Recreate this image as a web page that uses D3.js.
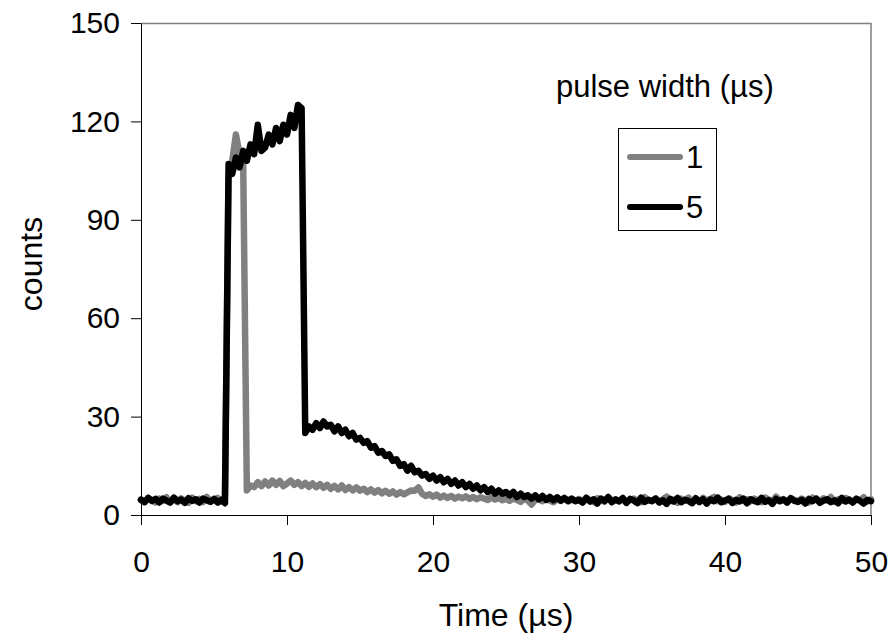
<!DOCTYPE html>
<html>
<head>
<meta charset="utf-8">
<script src="https://cdn.jsdelivr.net/npm/d3@7"></script>
<style>
  body { margin: 0; background: #fff; }
  text { font-family: "Liberation Sans", Arial, sans-serif; fill: #000; }
</style>
</head>
<body>
<div id="chart"></div>
<script>
// sample spacing of the recorded traces (µs)
const step = 0.25;

const xTicks = [0, 10, 20, 30, 40, 50];
const yTicks = [0, 30, 60, 90, 120, 150];
const legendLabels = ['1', '5'];

// pulse width 1 µs
const gray1 = [
  4.8, 4.0, 5.2, 4.4, 3.8, 5.0, 4.3, 5.4, 4.1, 4.7, 3.9, 5.1, 4.5, 3.7, 5.3, 4.2, 4.9, 4.0, 5.5, 4.4,
  4.6, 5.2, 4.1, 5.6, 104, 108, 116, 110, 107, 7.5, 9, 8.5, 10, 8.8, 10.2, 9, 10.5, 9.2, 10.4, 8.8,
  9.6, 10.5, 9.2, 10, 8.8, 9.8, 8.6, 9.6, 8.5, 9.4, 8.3, 9.2, 8, 8.9, 7.8, 9, 7.6, 8.5, 7.5, 8.4,
  7.4, 8.0, 7.0, 7.8, 6.8, 7.6, 6.6, 7.4, 6.5, 7.2, 6.2, 7.0, 6.3, 6.9, 7.5, 7.4, 8.4, 6.5, 5.8, 6.3,
  5.6, 6.2, 5.3, 5.9, 5.2, 5.8, 5.0, 5.6, 5.1, 5.7, 4.9, 5.5, 4.8, 5.4, 5.0, 4.6, 5.3, 4.7, 5.2, 4.5,
  4.9, 4.3, 5.1, 4.6, 4.0, 5.0, 4.4, 3.2, 4.5, 4.9, 4.2, 5.1, 4.4, 3.9, 4.8, 4.3, 5.0, 4.1, 4.7, 4.4,
  4.9, 4.2, 5.3, 4.5, 3.9, 5.1, 4.6, 4.0, 5.5, 4.3, 4.8, 4.1, 5.2, 3.8, 4.7, 5.0, 4.4, 3.9, 5.4, 4.6,
  4.3, 5.1, 4.0, 4.8, 5.6, 4.2, 4.7, 3.7, 5.0, 4.5, 5.3, 4.1, 4.6, 3.9, 5.2, 4.4, 4.9, 5.5, 4.2, 4.7,
  4.0, 5.1, 4.6, 3.8, 5.4, 4.3, 4.8, 4.1, 5.0, 4.5, 3.9, 5.3, 4.7, 4.2, 5.6, 4.4, 4.9, 4.0, 5.2, 4.6,
  4.3, 5.0, 4.5, 3.8, 5.3, 4.7, 4.2, 5.1, 4.4, 5.5, 4.0, 4.8, 4.3, 5.2, 4.6, 3.9, 5.0, 4.5, 5.4, 4.1, 4.8
];

// pulse width 5 µs
const black5 = [
  4.6, 3.9, 5.2, 4.3, 4.9, 3.8, 5.0, 4.4, 3.8, 5.3, 4.2, 4.7, 3.7, 5.1, 4.3, 4.8, 3.8, 5.0, 4.5, 4.0,
  4.9, 3.8, 4.6, 3.6, 107, 104, 109, 106, 111, 108, 113, 110, 119, 111, 112, 116, 113, 118, 114, 119,
  116, 122, 118, 125, 124, 25, 27, 26, 28, 26.5, 28.5, 27, 27.5, 25.5, 27, 25, 26, 24, 25, 23,
  23.5, 22, 22.5, 20.5, 21, 19, 19.5, 18, 18.5, 16.5, 17, 15, 15.5, 13.5, 15, 13, 13.5, 12, 12.5, 11,
  12, 10.5, 11.5, 10, 11, 9.5, 10.5, 9, 10, 8.5, 9.5, 8, 9, 7.5, 8.5, 7, 8, 6.5, 7.5, 6.5,
  7, 6, 7, 5.5, 6.5, 5.5, 6, 5, 6, 4.8, 5.8, 4.6, 5.5, 4.5, 5.4, 4.4, 5.2, 4.3, 5, 4.2,
  4.6, 3.8, 5.2, 4.1, 4.8, 3.5, 5.0, 4.3, 5.4, 3.9, 4.7, 4.2, 5.1, 3.7, 4.9, 4.4, 3.6, 5.3, 4.0, 4.6,
  4.2, 5.0, 3.8, 4.5, 3.4, 4.9, 4.1, 5.2, 3.9, 4.6, 4.3, 3.6, 5.1, 4.0, 4.8, 3.5, 4.7, 4.2, 5.3, 3.9,
  4.4, 4.9, 3.7, 4.6, 4.1, 5.0, 3.6, 4.8, 4.3, 3.9, 5.2, 4.0, 4.5, 3.4, 4.9, 4.2, 4.7, 3.8, 5.1, 4.3,
  4.0, 4.6, 3.5, 4.9, 4.2, 5.0, 3.7, 4.4, 4.8, 3.9, 4.5, 3.6, 5.2, 4.1, 4.7, 3.8, 4.9, 4.3, 3.5, 4.6, 4.2
];

const width = 891;
const height = 636;
const margin = { top: 23, right: 20, bottom: 121, left: 141 };
const innerW = width - margin.left - margin.right;
const innerH = height - margin.top - margin.bottom;

const svg = d3.select('#chart').append('svg')
  .attr('width', width)
  .attr('height', height);

const g = svg.append('g')
  .attr('transform', `translate(${margin.left},${margin.top})`);

const x = d3.scaleLinear().domain([0, 50]).range([0, innerW]);
const y = d3.scaleLinear().domain([0, 150]).range([innerH, 0]);

// gray frame on top and right
g.append('path')
  .attr('d', `M0,0.5H${innerW}V${innerH}`)
  .attr('fill', 'none')
  .attr('stroke', '#808080')
  .attr('stroke-width', 1.5);

const line = d3.line()
  .x((d, i) => x(i * step))
  .y(d => y(d));

const series = [
  { values: gray1, color: '#808080' },
  { values: black5, color: '#000000' }
];

g.selectAll('.trace').data(series)
  .enter().append('path')
    .attr('class', 'trace')
    .attr('d', d => line(d.values))
    .attr('fill', 'none')
    .attr('stroke', d => d.color)
    .attr('stroke-width', 6.5)
    .attr('stroke-linejoin', 'round')
    .attr('stroke-linecap', 'round');

const xAxis = g.append('g')
  .attr('transform', `translate(0,${innerH})`)
  .call(d3.axisBottom(x).tickValues(xTicks).tickSize(10).tickSizeOuter(0).tickPadding(26));

const yAxis = g.append('g')
  .call(d3.axisLeft(y).tickValues(yTicks).tickSize(10).tickSizeOuter(0).tickPadding(11));

[xAxis, yAxis].forEach(a => {
  a.selectAll('text').style('font-size', '30px').attr('fill', '#000');
  a.selectAll('line, path').attr('stroke', '#000');
});

svg.append('text')
  .attr('x', margin.left + innerW / 2)
  .attr('y', 626)
  .style('text-anchor', 'middle')
  .style('font-size', '32px')
  .text('Time (µs)');

svg.append('text')
  .attr('transform', 'translate(42,264) rotate(-90)')
  .style('text-anchor', 'middle')
  .style('font-size', '32px')
  .text('counts');

// legend
svg.append('text')
  .attr('x', 556)
  .attr('y', 97)
  .style('font-size', '31px')
  .text('pulse width (µs)');

const legend = svg.append('g');
legend.append('rect')
  .attr('x', 618.5).attr('y', 128.5)
  .attr('width', 98).attr('height', 102)
  .attr('fill', '#fff')
  .attr('stroke', '#000')
  .attr('stroke-width', 1);

const items = legend.selectAll('.item').data(series)
  .enter().append('g')
    .attr('class', 'item')
    .attr('transform', (d, i) => `translate(0,${157 + i * 50})`);

items.append('line')
  .attr('x1', 630).attr('x2', 680)
  .attr('stroke', d => d.color)
  .attr('stroke-width', 6)
  .attr('stroke-linecap', 'round');

items.append('text')
  .attr('x', 686)
  .attr('dy', '0.355em')
  .style('font-size', '31px')
  .text((d, i) => legendLabels[i]);
</script>
</body>
</html>
